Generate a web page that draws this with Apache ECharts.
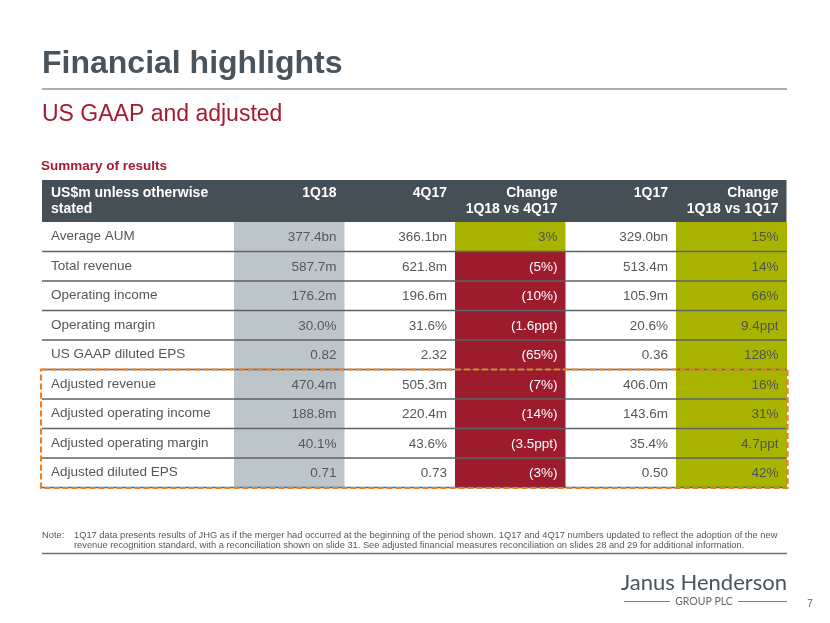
<!DOCTYPE html>
<html><head><meta charset="utf-8">
<script src="https://cdn.jsdelivr.net/npm/echarts@6/dist/echarts.min.js"></script>
<style>html,body{margin:0;padding:0;background:#fff}#c{width:830px;height:623px}</style>
</head><body><div id="c"></div>
<script>
const titleText = 'Financial highlights';
const subtitleText = 'US GAAP and adjusted';
const tableTitle = 'Summary of results';
const headerLabel = 'US$m unless otherwise\nstated';
const columns = ['1Q18', '4Q17', 'Change\n1Q18 vs 4Q17', '1Q17', 'Change\n1Q18 vs 1Q17'];
const rowLabels = ['Average AUM', 'Total revenue', 'Operating income', 'Operating margin', 'US GAAP diluted EPS',
  'Adjusted revenue', 'Adjusted operating income', 'Adjusted operating margin', 'Adjusted diluted EPS'];
const values1Q18 = ['377.4bn', '587.7m', '176.2m', '30.0%', '0.82', '470.4m', '188.8m', '40.1%', '0.71'];
const values4Q17 = ['366.1bn', '621.8m', '196.6m', '31.6%', '2.32', '505.3m', '220.4m', '43.6%', '0.73'];
const change1Q18vs4Q17 = ['3%', '(5%)', '(10%)', '(1.6ppt)', '(65%)', '(7%)', '(14%)', '(3.5ppt)', '(3%)'];
const values1Q17 = ['329.0bn', '513.4m', '105.9m', '20.6%', '0.36', '406.0m', '143.6m', '35.4%', '0.50'];
const change1Q18vs1Q17 = ['15%', '14%', '66%', '9.4ppt', '128%', '16%', '31%', '4.7ppt', '42%'];
const noteLabel = 'Note:';
const noteLines = [
  '1Q17 data presents results of JHG as if the merger had occurred at the beginning of the period shown. 1Q17 and 4Q17 numbers updated to reflect the adoption of the new',
  'revenue recognition standard, with a reconciliation shown on slide 31. See adjusted financial measures reconciliation on slides 28 and 29 for additional information.'
];
const logoName = 'Janus Henderson';
const logoSub = 'GROUP PLC';
const pageNumber = '7';

const columnValues = [values1Q18, values4Q17, change1Q18vs4Q17, values1Q17, change1Q18vs1Q17];
const changeColumns = [2, 4];
const FONT = '"Liberation Sans", Arial, sans-serif';
const C = { dark: '#454f56', gray: '#bcc5ca', green: '#a8b400', red: '#9c1b2c', text: '#53585c', line: '#5b6268', orange: '#ec7f23', title: '#48535b', crimson: '#a6192e' };
const LABEL_W = 192;

const cellData = [];
columnValues.forEach((col, c) => col.forEach((t, r) => cellData.push([c, r, t])));
const rowData = rowLabels.map((_, r) => [0, r]);
const adj = rowLabels.map((l, i) => l.startsWith('Adjusted') ? i : -1).filter(i => i >= 0);
const boxData = [[0, adj[0], adj[adj.length - 1]]];
const headerData = columns.map((_, c) => [c, 0]);

function cellRender(params, api) {
  const c = api.value(0), r = api.value(1);
  const t = cellData[params.dataIndex][2];
  const p = api.coord([c, r]);
  const s = api.size([1, 1]);
  let fill = '#ffffff', tc = C.text;
  if (c === 0) fill = C.gray;
  if (changeColumns.includes(c)) {
    if (t.startsWith('(')) { fill = C.red; tc = '#ffffff'; } else { fill = C.green; tc = '#4e5452'; }
  }
  return { type: 'group', children: [
    { type: 'rect', shape: { x: p[0] - s[0] / 2, y: p[1] - s[1] / 2, width: s[0] + 0.5, height: s[1] + 0.5 }, style: { fill: fill } },
    { type: 'text', style: { text: t, x: p[0] + s[0] / 2 - 8, y: p[1] + 1, align: 'right', verticalAlign: 'middle', fill: tc, fontSize: 13.5, fontFamily: FONT } }
  ]};
}
function lineRender(params, api) {
  const cs = params.coordSys;
  const p = api.coord([0, api.value(1)]);
  const s = api.size([1, 1]);
  const y = p[1] + s[1] / 2;
  return { type: 'line', shape: { x1: cs.x - LABEL_W, y1: y, x2: cs.x + cs.width, y2: y }, style: { stroke: C.line, lineWidth: 1.6 } };
}
function boxRender(params, api) {
  const cs = params.coordSys;
  const s = api.size([1, 1]);
  const top = api.coord([0, api.value(1)])[1] - s[1] / 2;
  const bot = api.coord([0, api.value(2)])[1] + s[1] / 2;
  return { type: 'rect', shape: { x: cs.x - LABEL_W - 1, y: top, width: cs.width + LABEL_W + 2, height: bot - top + 0.5 },
    style: { fill: 'none', stroke: C.orange, lineWidth: 2.2, lineDash: [6, 3] } };
}
function headerRender(params, api) {
  const cs = params.coordSys;
  const c = api.value(0);
  const p = api.coord([c, 0]);
  const s = api.size([1, 1]);
  return { type: 'text', style: { text: columns[c], x: p[0] + s[0] / 2 - 8, y: cs.y - 37, align: 'right', verticalAlign: 'top', lineHeight: 16,
    fill: '#ffffff', fontSize: 14, fontWeight: 'bold', fontFamily: FONT } };
}

const chart = echarts.init(document.getElementById('c'), null, { renderer: 'canvas' });
chart.setOption({
  animation: false,
  grid: { left: 234, right: 43.5, top: 222, bottom: 135.5 },
  xAxis: { type: 'category', data: columns, axisLine: { show: false }, axisTick: { show: false }, axisLabel: { show: false }, splitLine: { show: false } },
  yAxis: { type: 'category', data: rowLabels, inverse: true, axisLine: { show: false }, axisTick: { show: false }, splitLine: { show: false },
    axisLabel: { interval: 0, align: 'left', verticalAlign: 'middle', padding: [3, 0, 0, 0], margin: 183, color: C.text, fontSize: 13.5, fontFamily: FONT } },
  graphic: [
    { type: 'text', left: 42, top: 48, style: { text: titleText, fill: C.title, fontSize: 32, fontWeight: 'bold', fontFamily: FONT } },
    { type: 'line', shape: { x1: 42, y1: 89, x2: 787, y2: 89 }, style: { stroke: '#a8aeb2', lineWidth: 2 } },
    { type: 'text', left: 42, top: 103, style: { text: subtitleText, fill: C.crimson, fontSize: 23, fontFamily: FONT } },
    { type: 'text', left: 41, top: 159, style: { text: tableTitle, fill: C.crimson, fontSize: 13.5, fontWeight: 'bold', fontFamily: FONT } },
    { type: 'rect', shape: { x: 42, y: 180, width: 744.5, height: 42 }, style: { fill: C.dark }, z: 1 },
    { type: 'text', x: 51, y: 185, z: 10, style: { text: headerLabel, fill: '#ffffff', fontSize: 14, fontWeight: 'bold', fontFamily: FONT, lineHeight: 16, verticalAlign: 'top' } },
    { type: 'text', x: 42, y: 535, style: { text: noteLabel, fill: C.text, fontSize: 9.3, fontFamily: FONT, verticalAlign: 'middle' } },
    { type: 'text', x: 74, y: 535, style: { text: noteLines[0], fill: C.text, fontSize: 9.3, fontFamily: FONT, verticalAlign: 'middle' } },
    { type: 'text', x: 74, y: 545.5, style: { text: noteLines[1], fill: C.text, fontSize: 9.3, fontFamily: FONT, verticalAlign: 'middle' } },
    { type: 'line', shape: { x1: 42, y1: 553.5, x2: 787, y2: 553.5 }, style: { stroke: '#6c7277', lineWidth: 1.5 } },
    { type: 'text', x: 787, y: 583, style: { text: logoName, fill: '#4a545c', fontSize: 22, fontFamily: 'Lato, "Open Sans", sans-serif', align: 'right', verticalAlign: 'middle' } },
    { type: 'text', x: 704, y: 601.5, style: { text: logoSub, fill: '#5f676d', fontSize: 10.5, fontFamily: 'Lato, sans-serif', align: 'center', verticalAlign: 'middle' } },
    { type: 'line', shape: { x1: 624, y1: 601.5, x2: 670, y2: 601.5 }, style: { stroke: '#7a8288', lineWidth: 1 } },
    { type: 'line', shape: { x1: 738, y1: 601.5, x2: 787, y2: 601.5 }, style: { stroke: '#7a8288', lineWidth: 1 } },
    { type: 'text', x: 810, y: 604, style: { text: pageNumber, fill: C.text, fontSize: 10, fontFamily: FONT, align: 'center', verticalAlign: 'middle' } }
  ],
  series: [
    { type: 'custom', clip: false, z: 2, renderItem: cellRender, data: cellData, encode: { x: 0, y: 1 } },
    { type: 'custom', clip: false, z: 3, renderItem: lineRender, data: rowData, encode: { x: 0, y: 1 } },
    { type: 'custom', clip: false, z: 4, renderItem: boxRender, data: boxData, encode: { x: 0, y: 1 } },
    { type: 'custom', clip: false, z: 5, renderItem: headerRender, data: headerData, encode: { x: 0, y: 1 } }
  ]
});
</script></body></html>
